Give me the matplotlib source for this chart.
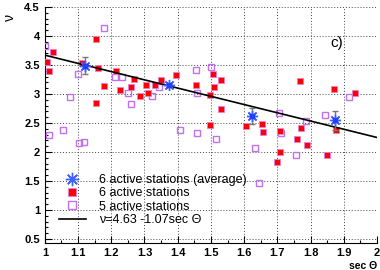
import matplotlib
matplotlib.use('Agg')
import matplotlib.pyplot as plt
from matplotlib.ticker import MultipleLocator, FuncFormatter

plt.rcParams['font.family'] = ['Liberation Sans', 'DejaVu Sans']

# 6 active stations, averaged (blue stars with error bars)
avg_x = [1.121, 1.373, 1.623, 1.875]
avg_y = [3.49, 3.15, 2.62, 2.55]
avg_err = [0.14, 0.03, 0.135, 0.165]

# 6 active stations (red filled squares)
six_x = [1.005, 1.024, 1.012, 1.153, 1.113, 1.160, 1.177, 1.155, 1.214, 1.226,
         1.268, 1.259, 1.286, 1.305, 1.312, 1.332, 1.350, 1.395, 1.506, 1.530,
         1.454, 1.510, 1.498, 1.530, 1.498, 1.769, 1.870, 1.934, 1.607, 1.653,
         1.658, 1.707, 1.770, 1.877, 1.760, 1.789, 1.709, 1.700, 1.851]
six_y = [3.56, 3.72, 3.40, 3.95, 3.54, 3.44, 3.14, 2.85, 3.39, 3.07,
         3.26, 3.12, 2.96, 3.15, 3.01, 3.15, 3.24, 3.32, 3.34, 3.24,
         3.16, 3.12, 2.99, 2.74, 2.47, 3.23, 3.08, 3.02, 2.45, 2.48,
         2.35, 2.36, 2.42, 2.38, 2.22, 2.12, 2.00, 1.83, 1.95]

# 5 active stations (open violet squares)
five_x = [1.000, 1.178, 1.101, 1.211, 1.231, 1.249, 1.259, 1.322, 1.344, 1.077,
          1.055, 1.014, 1.407, 1.455, 1.500, 1.457, 1.706, 1.786, 1.843, 1.915,
          1.457, 1.515, 1.634, 1.712, 1.756, 1.645, 1.103, 1.117]
five_y = [3.83, 4.13, 3.35, 3.29, 3.29, 3.02, 2.83, 2.96, 3.12, 2.94,
          2.38, 2.30, 2.38, 3.42, 3.47, 3.02, 2.68, 2.54, 2.64, 2.94,
          2.33, 2.22, 2.07, 2.33, 1.94, 1.47, 2.16, 2.17]

# fitted line as drawn
fit_x = [1.0, 2.0]
fit_y = [3.67, 2.25]


def short_num(v, pos):
    return ('%.1f' % v).rstrip('0').rstrip('.')


fig = plt.figure(figsize=(3.8, 2.7), dpi=100)
ax = fig.add_axes([0.118, 0.1, 0.874, 0.874])

ax.plot(five_x, five_y, 's', mfc='none', mec='#c070f0', ms=4.8, mew=1.0,
        label='5 active stations', zorder=3)
ax.plot(six_x, six_y, 's', mfc='#ff0000', mec='#e080e0', ms=5.0, mew=0.6,
        label='6 active stations', zorder=4)
ax.plot(fit_x, fit_y, '-', color='black', lw=1.2, label='ν=4.63 -1.07sec Θ', zorder=5)
ax.errorbar(avg_x, avg_y, yerr=avg_err, fmt='none', ecolor='#777777', elinewidth=1,
            capsize=2, zorder=6)
ax.plot(avg_x, avg_y, linestyle='none', marker=(8, 2, 0), color='#4060ff', ms=8,
        mew=1.0, label='6 active stations (average)', zorder=7)
ax.plot(avg_x, avg_y, linestyle='none', marker='s', color='#2040ff', ms=2.5, zorder=8)

ax.set_xlim(1, 2)
ax.set_ylim(0.43, 4.5)
ax.xaxis.set_major_locator(MultipleLocator(0.1))
ax.xaxis.set_minor_locator(MultipleLocator(0.05))
ax.yaxis.set_major_locator(MultipleLocator(0.5))
ax.yaxis.set_minor_locator(MultipleLocator(0.1))
ax.xaxis.set_major_formatter(FuncFormatter(short_num))
ax.yaxis.set_major_formatter(FuncFormatter(short_num))

ax.tick_params(which='both', direction='in', top=False, right=False, labelsize=8)
ax.tick_params(which='major', length=5, width=0.8)
ax.tick_params(which='minor', length=2.5, width=0.8)
for lab in ax.get_xticklabels() + ax.get_yticklabels():
    lab.set_fontweight('bold')

ax.spines['top'].set_visible(False)
ax.spines['right'].set_visible(False)
ax.grid(True, which='major', linestyle=(0, (1, 2)), color='#444444', lw=0.7)

ax.set_xlabel('sec Θ', loc='right', fontsize=7.5, fontweight='bold', labelpad=2)
ax.set_ylabel('ν', loc='top', fontsize=10, labelpad=2)
ax.yaxis.set_label_coords(-0.085, 0.97)
ax.text(1.86, 3.81, 'c)', fontsize=11)

h, l = ax.get_legend_handles_labels()
order = [3, 1, 0, 2]
ax.legend([h[i] for i in order], [l[i] for i in order], loc='lower left',
          bbox_to_anchor=(0.015, 0.035), frameon=False, fontsize=9,
          handlelength=2.2, labelspacing=0.1, borderpad=0.2, handletextpad=1.0,
          markerscale=1.2)

fig.savefig('out.png', dpi=100)
